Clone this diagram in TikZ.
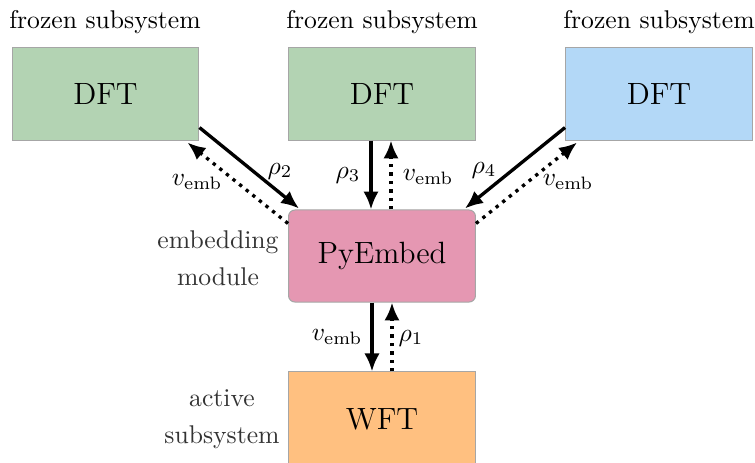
\documentclass[tikz,border=0pt]{standalone}
\usetikzlibrary{calc,arrows.meta}
\definecolor{dftgreen}{HTML}{B3D3B3}
\definecolor{dftblue}{HTML}{B3D8F7}
\definecolor{pepink}{HTML}{E597B2}
\definecolor{wftorange}{HTML}{FFC080}
\begin{document}
\begin{tikzpicture}[x=0.39pt,y=-0.39pt,
  boxnode/.style={draw=black!35,line width=0.4pt,minimum width=72.9pt,minimum height=35.9pt,inner sep=0pt,font=\large},
  sidelabel/.style={text=black!80,align=center,font=\normalsize,inner sep=0pt},
  solidarrow/.style={line width=1.3pt,-{Latex[length=7pt,width=6pt]}},
  dottedarrow/.style={line width=1.3pt,dotted,-{Latex[length=7pt,width=6pt]}},
  lbl/.style={inner sep=0pt,font=\normalsize}]
\useasboundingbox (0,0) rectangle (755,462);
\node[boxnode,fill=dftgreen] (b1) at (105.5,94) {DFT};
\node[boxnode,fill=dftgreen] (b2) at (382,94) {DFT};
\node[boxnode,fill=dftblue] (b3) at (659,94) {DFT};
\node[boxnode,fill=pepink,rounded corners=2.5pt] (pe) at (382,256) {PyEmbed};
\node[boxnode,fill=wftorange,minimum height=36.7pt] (wft) at (382,419) {WFT};
\node[lbl] (t1) at (105,22) {frozen subsystem};
\node[lbl] (t2) at (382,22) {frozen subsystem};
\node[lbl] (t3) at (659,22) {frozen subsystem};
\node[sidelabel] (em) at (218,258) {embedding\\[2.5pt]module};
\node[sidelabel] (as) at (222,419) {active\\[2.5pt]subsystem};
% box 1
\draw[solidarrow] ($(b1.south east)+(0,-13)$) -- ($(pe.north west)+(11,-1)$);
\draw[dottedarrow] ($(pe.north west)+(0,14)$) -- ($(b1.south east)+(-12,2)$);
% box 2
\draw[solidarrow] ($(b2.south)+(-11,0)$) -- ($(pe.north)+(-11,0)$);
\draw[dottedarrow] ($(pe.north)+(9,0)$) -- ($(b2.south)+(9,0)$);
% box 3
\draw[solidarrow] ($(b3.south west)+(0,-13)$) -- ($(pe.north east)+(-11,-1)$);
\draw[dottedarrow] ($(pe.north east)+(0,14)$) -- ($(b3.south west)+(12,2)$);
% wft
\draw[solidarrow] ($(pe.south)+(-10,0)$) -- ($(wft.north)+(-10,0)$);
\draw[dottedarrow] ($(wft.north)+(10,0)$) -- ($(pe.south)+(10,0)$);
% labels
\node[lbl] (r2) at (280,171) {$\rho_2$};
\node[lbl] (v1) at (197,182) {$v_{\mathrm{emb}}$};
\node[lbl] (r3) at (348,175) {$\rho_3$};
\node[lbl] (v2) at (428,177) {$v_{\mathrm{emb}}$};
\node[lbl] (r4) at (484,170) {$\rho_4$};
\node[lbl] (v3) at (568,182) {$v_{\mathrm{emb}}$};
\node[lbl] (v4) at (337,337) {$v_{\mathrm{emb}}$};
\node[lbl] (r1) at (411,338) {$\rho_1$};
\end{tikzpicture}
\end{document}
